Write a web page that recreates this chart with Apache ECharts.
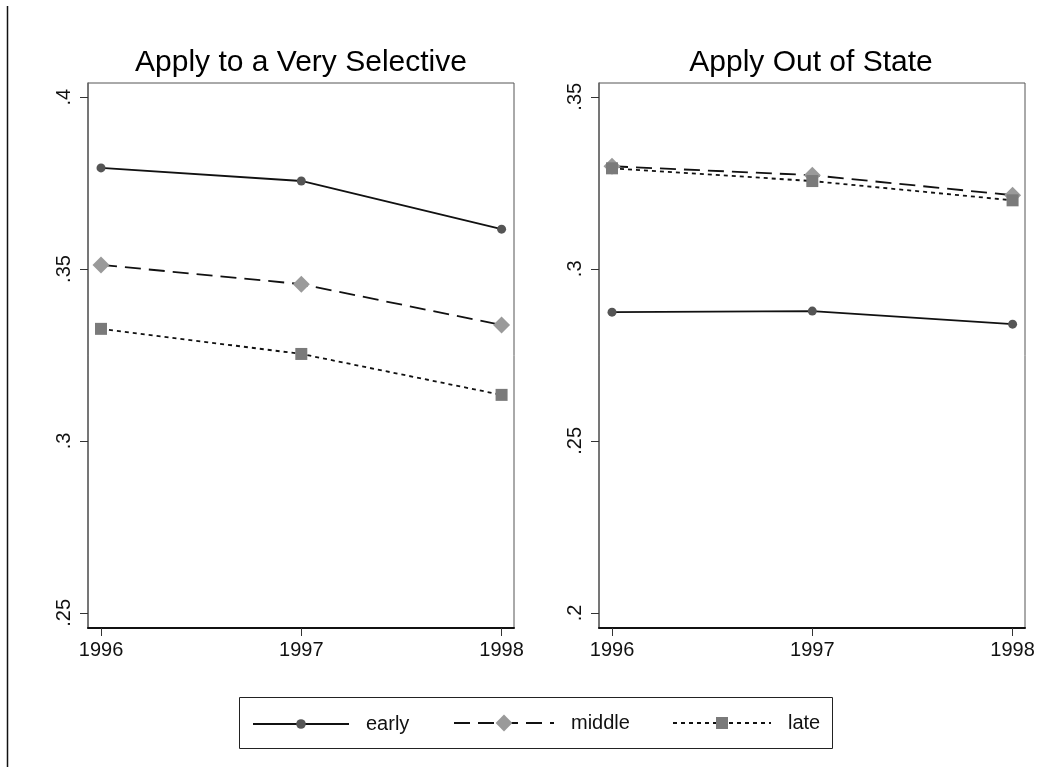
<!DOCTYPE html>
<html>
<head>
<meta charset="utf-8">
<script src="https://cdn.jsdelivr.net/npm/echarts@6/dist/echarts.min.js"></script>
<style>
  html, body { margin: 0; padding: 0; background: #fff; }
  #chart { width: 1039px; height: 775px; }
</style>
</head>
<body>
<div id="chart"></div>
<script>
// Years on the horizontal axis
const years = [1996, 1997, 1998];

// Share applying to a very selective college, by timing group
const selEarly  = [0.3794, 0.3756, 0.3616];
const selMiddle = [0.3512, 0.3456, 0.3337];
const selLate   = [0.3326, 0.3253, 0.3134];

// Share applying out of state, by timing group
const oosEarly  = [0.2874, 0.2877, 0.2839];
const oosMiddle = [0.3298, 0.3272, 0.3214];
const oosLate   = [0.3292, 0.3255, 0.3199];

// Tick values and labels for each panel
const selTicks = [0.25, 0.3, 0.35, 0.4];
const oosTicks = [0.2, 0.25, 0.3, 0.35];
const tickLabel = v => String(+v.toFixed(2)).replace(/^0/, '');

const panelTitles = ['Apply to a Very Selective', 'Apply Out of State'];
const groupNames = ['early', 'middle', 'late'];

const FONT = 'Liberation Sans, Arial, sans-serif';

const pair = arr => arr.map((v, i) => [years[i], v]);

const styles = {
  early:  { symbol: 'circle',  symbolSize: 9,  color: '#555555', dash: 'solid' },
  middle: { symbol: 'diamond', symbolSize: 17, color: '#9a9a9a', dash: [16, 8] },
  late:   { symbol: 'rect',    symbolSize: 12, color: '#7a7a7a', dash: [4, 4] }
};

function makeSeries(name, data, idx) {
  const s = styles[name];
  return {
    name: name,
    type: 'line',
    xAxisIndex: idx,
    yAxisIndex: idx,
    data: pair(data),
    symbol: s.symbol,
    symbolSize: s.symbolSize,
    showAllSymbol: true,
    itemStyle: { color: s.color, opacity: 1 },
    lineStyle: { color: '#111', width: 1.8, type: s.dash },
    emphasis: { disabled: true },
    animation: false,
    z: name === 'early' ? 4 : 3
  };
}

function xAxis(idx) {
  return {
    type: 'value',
    gridIndex: idx,
    min: 1995.935,
    max: 1998.062,
    axisLine: { show: true, onZero: false, lineStyle: { color: '#111', width: 2 } },
    axisTick: { show: true, inside: false, length: 8, customValues: years, lineStyle: { color: '#333', width: 1 } },
    axisLabel: { customValues: years, formatter: v => String(v), color: '#111', fontFamily: FONT, fontSize: 20, margin: 12 },
    splitLine: { show: false }
  };
}

function yAxis(idx, ticks, min, max) {
  return {
    type: 'value',
    gridIndex: idx,
    min: min,
    max: max,
    axisLine: { show: true, onZero: false, lineStyle: { color: '#666', width: 1.5 } },
    axisTick: { show: true, inside: false, length: 8, customValues: ticks, lineStyle: { color: '#333', width: 1 } },
    axisLabel: {
      customValues: ticks,
      formatter: tickLabel,
      rotate: 90,
      color: '#111',
      fontFamily: FONT,
      fontSize: 20,
      margin: 14
    },
    splitLine: { show: false }
  };
}

// One legend per group so each key symbol keeps its own size
const legendSpec = [
  { name: 'early',  left: 252, top: 714, itemWidth: 96,  itemHeight: 12 },
  { name: 'middle', left: 453, top: 713, itemWidth: 100, itemHeight: 21 },
  { name: 'late',   left: 672, top: 713, itemWidth: 98,  itemHeight: 15 }
];

const legends = legendSpec.map(l => ({
  data: [l.name],
  left: l.left,
  top: l.top,
  padding: 0,
  itemWidth: l.itemWidth,
  itemHeight: l.itemHeight,
  selectedMode: false,
  textStyle: { fontFamily: FONT, fontSize: 20, color: '#111', padding: [0, 0, 0, 12] }
}));

const chart = echarts.init(document.getElementById('chart'), null, { renderer: 'canvas' });

chart.setOption({
  backgroundColor: '#ffffff',
  animation: false,
  grid: [
    { left: 88, top: 83, width: 426, height: 545, show: true, borderColor: '#555', borderWidth: 1, backgroundColor: '#fff' },
    { left: 599, top: 83, width: 426, height: 545, show: true, borderColor: '#555', borderWidth: 1, backgroundColor: '#fff' }
  ],
  xAxis: [xAxis(0), xAxis(1)],
  yAxis: [
    yAxis(0, selTicks, 0.2456, 0.4041),
    yAxis(1, oosTicks, 0.1956, 0.3540)
  ],
  legend: legends,
  graphic: [
    { type: 'line', shape: { x1: 7.5, y1: 6, x2: 7.5, y2: 767 }, style: { stroke: '#111', lineWidth: 1.5 } },
    { type: 'rect', shape: { x: 239.5, y: 697.5, width: 593, height: 51 }, style: { fill: null, stroke: '#222', lineWidth: 1 }, z: -1 },
    { type: 'text', x: 301, y: 63, style: { text: panelTitles[0], align: 'center', verticalAlign: 'middle', font: '30px ' + FONT, fill: '#000' } },
    { type: 'text', x: 811, y: 63, style: { text: panelTitles[1], align: 'center', verticalAlign: 'middle', font: '30px ' + FONT, fill: '#000' } }
  ],
  series: [
    makeSeries('early', selEarly, 0),
    makeSeries('middle', selMiddle, 0),
    makeSeries('late', selLate, 0),
    makeSeries('early', oosEarly, 1),
    makeSeries('middle', oosMiddle, 1),
    makeSeries('late', oosLate, 1)
  ]
});
</script>
</body>
</html>
